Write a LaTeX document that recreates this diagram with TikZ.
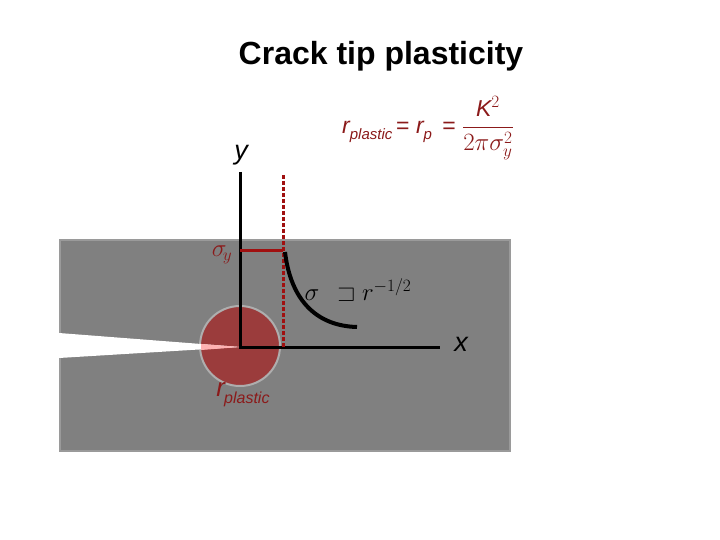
\documentclass[tikz,border=0pt]{standalone}
\usepackage{amsmath,amssymb}
\usepackage{fontspec}
\setmainfont{Liberation Sans}
\definecolor{plate}{HTML}{808080}
\definecolor{edge}{HTML}{9A9A9A}
\definecolor{zone}{HTML}{9B3C3C}
\definecolor{dred}{HTML}{8B1A1A}
\definecolor{redline}{HTML}{A01010}
\begin{document}
\begin{tikzpicture}[x=1pt,y=-1pt,
  lbl/.style={text=dred,inner sep=0pt},
  axis/.style={line width=3pt,black}]
\useasboundingbox (0,0) rectangle (720,540);
\node (title) at (381,56) {\fontsize{32}{36}\selectfont\bfseries Crack tip plasticity};
\fill[plate,draw=edge,line width=2pt] (60,240) rectangle (510,451);
\fill[zone,draw=edge!80!white,line width=2pt] (240,346) circle (40);
\fill[white] (59,333) -- (240,347) -- (59,358) -- cycle;
\fill[red!30!white] (201,344) -- (240,347) -- (201,350) -- cycle;
\coordinate (o) at (240,347);
\coordinate (ytop) at (240,172);
\coordinate (xend) at (440,347);
\draw[axis] (ytop) -- (o) -- (xend);
\coordinate (dtop) at (283,175);
\coordinate (dbot) at (283,347);
\draw[redline,line width=3pt,dash pattern=on 4pt off 2pt] (dtop) -- (dbot);
\coordinate (sy) at (240,250);
\coordinate (sy2) at (283,250);
\draw[redline,line width=3pt] (sy) -- (sy2);
\coordinate (c1) at (285,252);
\coordinate (c2) at (357,327);
\draw[black,line width=4pt] (c1) .. controls (291,302) and (318,326) .. (c2);
\node[lbl,font=\fontsize{27}{27}\selectfont] (sl) at (222,255) {$\sigma_{\!y}$};
\node (law) at (358,290) {\fontsize{23}{23}\selectfont$\sigma\;\,\sqsupset r^{-1/2}$};
\node (xl) at (461,344) {\fontsize{27}{27}\selectfont\itshape x};
\node (yl) at (241,155) {\fontsize{27}{27}\selectfont\itshape y};
\node[lbl] (rp) at (243,395) {\fontsize{26}{26}\selectfont\itshape r\kern-1pt\raisebox{-7pt}{\fontsize{16}{16}\selectfont plastic}};
\node[lbl] (form) at (428,128) {\fontsize{23}{23}\selectfont\itshape r\raisebox{-6pt}{\fontsize{15}{15}\selectfont plastic}\,\upshape = \itshape r\raisebox{-6pt}{\fontsize{15}{15}\selectfont p}\, \upshape= $\dfrac{\textit{K}^2}{2\pi\sigma_y^2}$};
\end{tikzpicture}
\end{document}
